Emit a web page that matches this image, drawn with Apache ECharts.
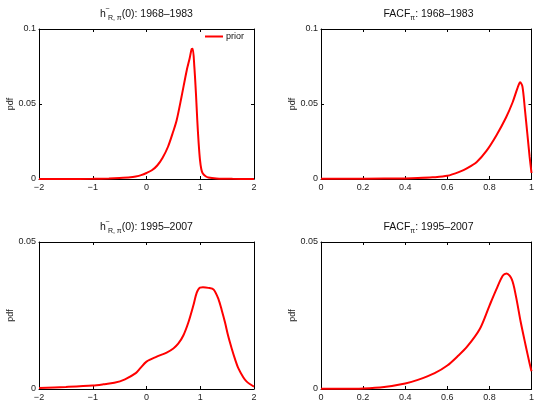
<!DOCTYPE html>
<html>
<head>
<meta charset="utf-8">
<script src="https://cdn.jsdelivr.net/npm/echarts@6/dist/echarts.min.js"></script>
<style>html,body{margin:0;padding:0;background:#fff}#c{width:537px;height:402px}</style>
</head>
<body>
<div id="c"></div>
<script>
// ---- Data ----
var hX1968 = [-2, -1.5, -1, -0.7, -0.5, -0.3, -0.2, -0.1, 0, 0.1, 0.2, 0.3, 0.4, 0.5, 0.56, 0.65, 0.75, 0.8, 0.84, 0.86, 0.89, 0.92, 0.945, 0.97, 0.995, 1.02, 1.045, 1.1, 1.15, 1.3, 1.6, 2];
var hY1968 = [0, 0, 0.0001, 0.0003, 0.0006, 0.0011, 0.0017, 0.0026, 0.0040, 0.0058, 0.0090, 0.0142, 0.0215, 0.0320, 0.0390, 0.0545, 0.0727, 0.080, 0.0866, 0.0868, 0.0749, 0.057, 0.039, 0.024, 0.0127, 0.0065, 0.0038, 0.0018, 0.001, 0.0004, 0.0001, 0];

var fX1968 = [0, 0.2, 0.4, 0.46, 0.53, 0.6, 0.66, 0.693, 0.74, 0.786, 0.833, 0.879, 0.91, 0.933, 0.946, 0.957, 0.969, 0.98, 0.991, 1.0];
var fY1968 = [0.0002, 0.0002, 0.0004, 0.0006, 0.0011, 0.0021, 0.0049, 0.0071, 0.0114, 0.0187, 0.029, 0.041, 0.051, 0.0604, 0.0645, 0.0616, 0.046, 0.0305, 0.0149, 0.004];

var hX1995 = [-2, -1.5, -1, -0.8, -0.6, -0.4, -0.2, -0.12, 0, 0.19, 0.375, 0.5, 0.59, 0.685, 0.78, 0.87, 0.935, 0.995, 1.05, 1.15, 1.25, 1.34, 1.4, 1.46, 1.52, 1.585, 1.65, 1.71, 1.8, 1.86, 1.93, 2];
var hY1995 = [0.0003, 0.0007, 0.0012, 0.0016, 0.0021, 0.0033, 0.0054, 0.0070, 0.0093, 0.011, 0.0124, 0.0138, 0.0154, 0.0182, 0.0227, 0.0283, 0.0328, 0.0345, 0.0346, 0.0344, 0.0338, 0.0305, 0.0268, 0.0227, 0.018, 0.0138, 0.0100, 0.007, 0.0040, 0.0026, 0.0016, 0.0008];

var fX1995 = [0, 0.1, 0.2, 0.3, 0.4, 0.46, 0.54, 0.6, 0.647, 0.693, 0.755, 0.80, 0.833, 0.864, 0.882, 0.907, 0.926, 0.949, 0.972, 0.99, 1.0];
var fY1995 = [0.0001, 0.0001, 0.0002, 0.0007, 0.0019, 0.0031, 0.0054, 0.0080, 0.011, 0.0143, 0.0205, 0.0283, 0.0339, 0.0386, 0.0393, 0.0372, 0.0316, 0.0227, 0.0149, 0.009, 0.006];

var titlePeriods = ['1968–1983', '1995–2007'];
var seriesName = 'prior';
var yAxisName = 'pdf';

// ---- Layout ----
var FONT = 'Liberation Sans, Arial, Helvetica, sans-serif';
var grids = [
  {left: 39, top: 29, width: 215, height: 150},
  {left: 321, top: 29, width: 215, height: 150},
  {left: 39, top: 242, width: 215, height: 149},
  {left: 321, top: 242, width: 215, height: 149}
];
var xRanges = [[-2, 2, 1], [0, 1, 0.2], [-2, 2, 1], [0, 1, 0.2]];
var yRanges = [[0, 0.1, 0.05], [0, 0.1, 0.05], [0, 0.05, 0.05], [0, 0.05, 0.05]];
var panels = [[hX1968, hY1968], [fX1968, fY1968], [hX1995, hY1995], [fX1995, fY1995]];

function fmt(v) { return String(+v.toFixed(4)).replace('-', '\u2212'); }

var xAxes = [], yAxes = [], series = [], titles = [];
var rich = {
  m: {fontSize: 10.5, fontFamily: FONT, color: '#111', verticalAlign: 'middle', lineHeight: 16},
  s: {fontSize: 7, fontFamily: FONT, color: '#111', verticalAlign: 'top', lineHeight: 16, width: 1, padding: [0, 0, 0, 1]},
  b: {fontSize: 7, fontFamily: FONT, color: '#111', verticalAlign: 'bottom', lineHeight: 16, padding: [5, 0, 0, 0]}
};
for (var i = 0; i < 4; i++) {
  var g = grids[i];
  var common = {
    gridIndex: i, type: 'value', splitLine: {show: false},
    axisLine: {show: true, onZero: false, lineStyle: {color: '#000', width: 1}},
    axisTick: {show: true, inside: true, length: 3, lineStyle: {color: '#000'}}
  };
  xAxes.push(Object.assign({}, common, {
    position: 'bottom', min: xRanges[i][0], max: xRanges[i][1], interval: xRanges[i][2],
    axisLabel: {fontSize: 9, color: '#222', fontFamily: FONT, margin: 4, formatter: fmt}
  }));
  xAxes.push(Object.assign({}, common, {
    position: 'top', min: xRanges[i][0], max: xRanges[i][1], interval: xRanges[i][2],
    axisLabel: {show: false}
  }));
  yAxes.push(Object.assign({}, common, {
    position: 'left', min: yRanges[i][0], max: yRanges[i][1], interval: yRanges[i][2],
    name: yAxisName, nameLocation: 'middle', nameGap: 23, nameRotate: 90,
    nameTextStyle: {fontSize: 9, color: '#222', fontFamily: FONT},
    axisLabel: {fontSize: 9, color: '#222', fontFamily: FONT, margin: 3, formatter: fmt}
  }));
  yAxes.push(Object.assign({}, common, {
    position: 'right', min: yRanges[i][0], max: yRanges[i][1], interval: yRanges[i][2],
    axisLabel: {show: false}
  }));
  var d = [];
  for (var k = 0; k < panels[i][0].length; k++) d.push([panels[i][0][k], panels[i][1][k]]);
  series.push({
    name: seriesName, type: 'line', xAxisIndex: 2 * i, yAxisIndex: 2 * i,
    data: d, showSymbol: false, smooth: 0.3, animation: false,
    lineStyle: {color: '#ff0000', width: 2}, itemStyle: {color: '#ff0000'}
  });
  var period = titlePeriods[i < 2 ? 0 : 1];
  var txt = (i % 2 === 0)
    ? '{m|h}{s|~}{b|R, \u03c0}{m|(0): ' + period + '}'
    : '{m|FACF}{b|\u03c0}{m|: ' + period + '}';
  titles.push({
    text: txt, left: g.left + g.width / 2, textAlign: 'center',
    top: g.top - 23, padding: 0,
    textStyle: {rich: rich, fontSize: 10.5, fontWeight: 'normal'}
  });
}

var chart = echarts.init(document.getElementById('c'), null, {renderer: 'canvas'});
chart.setOption({
  animation: false,
  backgroundColor: '#fff',
  title: titles,
  grid: grids,
  xAxis: xAxes,
  yAxis: yAxes,
  legend: {
    data: [seriesName], left: 205, top: 32, icon: 'rect', itemWidth: 18, itemHeight: 2, itemGap: 4,
    padding: 0, textStyle: {fontSize: 9, color: '#111', fontFamily: FONT, padding: [0, 0, 0, -2]}
  },
  series: series
});
</script>
</body>
</html>
